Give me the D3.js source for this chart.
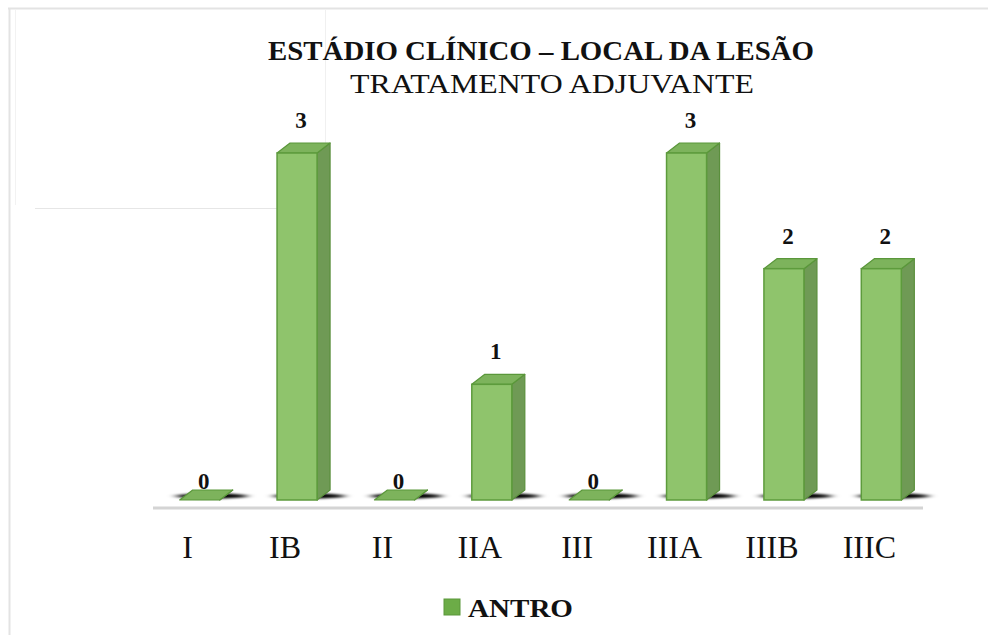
<!DOCTYPE html>
<html><head><meta charset="utf-8">
<script src="https://cdn.jsdelivr.net/npm/d3@7"></script>
<style>html,body{margin:0;padding:0;background:#fff;}svg{display:block;}
text{font-family:"Liberation Serif","Times New Roman",Times,serif;}</style>
</head><body>
<script>
const categories = ["I","IB","II","IIA","III","IIIA","IIIB","IIIC"];
const values = [0,3,0,1,0,3,2,2];
const seriesName = "ANTRO";
const titleLines = ["ESTÁDIO CLÍNICO – LOCAL DA LESÃO","TRATAMENTO ADJUVANTE"];

const W=988,H=635;
const svg=d3.select("body").append("svg").attr("width",W).attr("height",H);
const defs=svg.append("defs");
defs.append("filter").attr("id","blur").attr("x","-50%").attr("y","-300%").attr("width","200%").attr("height","700%")
  .append("feGaussianBlur").attr("stdDeviation","4 1.2");

// frame lines
svg.append("line").attr("x1",8).attr("x2",W).attr("y1",8.5).attr("y2",8.5).attr("stroke","#e3e3e3").attr("stroke-width",2);
svg.append("line").attr("x1",9.5).attr("x2",9.5).attr("y1",8).attr("y2",H).attr("stroke","#e3e3e3").attr("stroke-width",2);
svg.append("line").attr("x1",15.5).attr("x2",15.5).attr("y1",10).attr("y2",205).attr("stroke","#f2f2f2").attr("stroke-width",1);
svg.append("line").attr("x1",35).attr("x2",325).attr("y1",208.5).attr("y2",208.5).attr("stroke","#e6e6e6").attr("stroke-width",1);
svg.append("line").attr("x1",325.5).attr("x2",325.5).attr("y1",10).attr("y2",208).attr("stroke","#f0f0f0").attr("stroke-width",1);

const x=d3.scaleBand().domain(categories).range([151,930]).paddingInner(0.589).paddingOuter(0.2945);
const y=d3.scaleLinear().domain([0,3]).range([500,153]);
const dx=13, dy=-10;

// baseline
svg.append("rect").attr("x",153).attr("y",506.5).attr("width",770).attr("height",3).attr("fill","#d4d4d4");

const g=svg.append("g");
const bars=g.selectAll("g.bar").data(categories.map((c,i)=>({c,v:values[i]}))).enter().append("g");
// shadows
bars.append("ellipse").attr("cx",d=>x(d.c)+x.bandwidth()/2+12).attr("cy",496)
  .attr("rx",x.bandwidth()*0.9).attr("ry",2.6).attr("fill","#000").attr("opacity",1).attr("filter","url(#blur)");
// side
bars.append("path").attr("d",d=>{const x0=x(d.c)+x.bandwidth(),y0=y(d.v),y1=y(0);
  return `M${x0},${y0}L${x0+dx},${y0+dy}L${x0+dx},${y1+dy}L${x0},${y1}Z`;})
  .attr("fill","#6f9a55").attr("stroke","#5a8f3c").attr("stroke-width",1.2).attr("stroke-linejoin","round");
// top
bars.append("path").attr("d",d=>{const x0=x(d.c),x1=x0+x.bandwidth(),y0=y(d.v);
  return `M${x0},${y0}L${x1},${y0}L${x1+dx},${y0+dy}L${x0+dx},${y0+dy}Z`;})
  .attr("fill","#7db35c").attr("stroke","#5a973a").attr("stroke-width",1.2).attr("stroke-linejoin","round");
// front
bars.filter(d=>d.v>0).append("rect").attr("x",d=>x(d.c)).attr("y",d=>y(d.v)).attr("width",x.bandwidth())
  .attr("height",d=>y(0)-y(d.v)).attr("fill","#8fc46c").attr("stroke","#5d9b3c").attr("stroke-width",1.5);

// value labels
bars.append("text").attr("x",d=>x(d.c)+x.bandwidth()/2+4).attr("y",d=>d.v>0?y(d.v)-25:489)
  .attr("text-anchor","middle").attr("font-weight","bold")
  .attr("font-size",23).attr("fill","#111").text(d=>d.v);

// category labels
svg.selectAll("text.cat").data(categories).enter().append("text").attr("class","cat")
  .attr("x",d=>x(d)+x.bandwidth()/2-12).attr("y",558).attr("text-anchor","middle")
  .attr("font-size",32).attr("fill","#111").text(d=>d);

// title
svg.append("text").attr("x",541).attr("y",60).attr("text-anchor","middle")
  .attr("font-weight","bold").attr("font-size",27)
  .attr("textLength",546).attr("lengthAdjust","spacingAndGlyphs").attr("fill","#111").text(titleLines[0]);
svg.append("text").attr("x",552).attr("y",93).attr("text-anchor","middle")
  .attr("font-size",27)
  .attr("textLength",404).attr("lengthAdjust","spacingAndGlyphs").attr("fill","#111").text(titleLines[1]);

// legend
svg.append("rect").attr("x",444).attr("y",599).attr("width",16).attr("height",16).attr("fill","#6cac47").attr("stroke","#5a973a");
svg.append("text").attr("x",468).attr("y",617).attr("font-weight","bold")
  .attr("font-size",25).attr("textLength",105).attr("lengthAdjust","spacingAndGlyphs").attr("fill","#111").text(seriesName);
</script>
</body></html>
